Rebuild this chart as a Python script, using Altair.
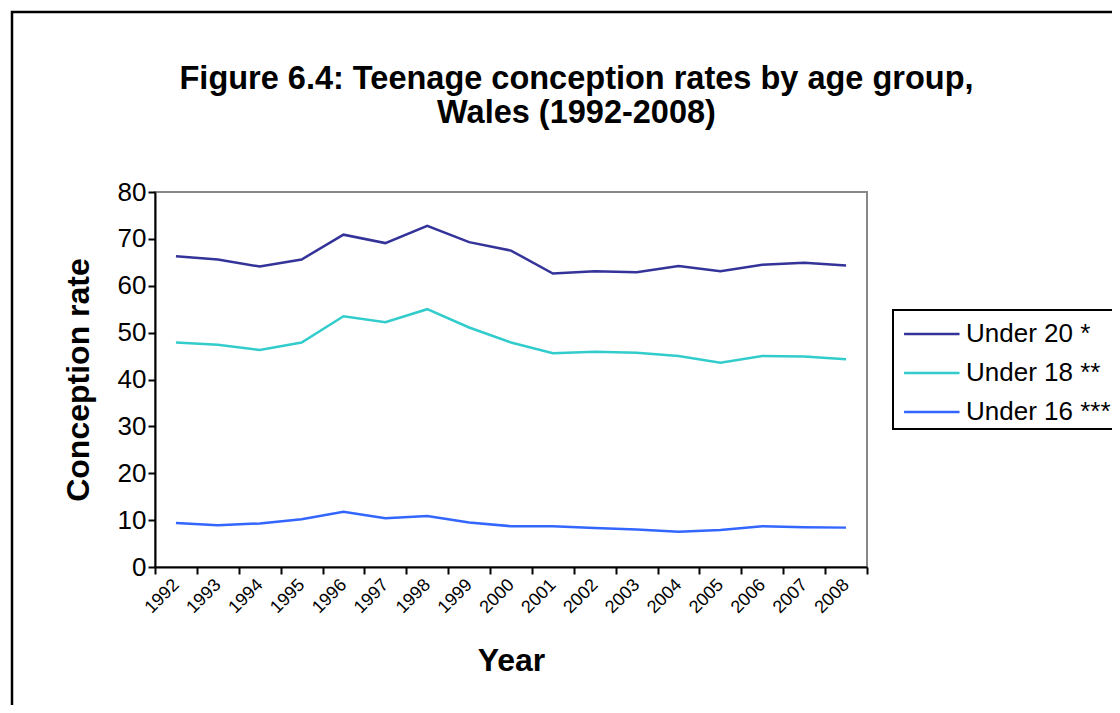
import altair as alt
import pandas as pd

years = [str(y) for y in range(1992, 2009)]
under20 = [66.3, 65.6, 64.1, 65.6, 70.9, 69.1, 72.8, 69.3, 67.5, 62.6, 63.1, 62.9, 64.2, 63.1, 64.5, 64.9, 64.3]
under18 = [47.9, 47.4, 46.3, 47.9, 53.5, 52.2, 55.0, 51.1, 47.9, 45.6, 45.9, 45.7, 45.0, 43.6, 45.0, 44.9, 44.3]
under16 = [9.4, 8.9, 9.3, 10.2, 11.8, 10.4, 10.9, 9.5, 8.7, 8.7, 8.3, 8.0, 7.5, 7.9, 8.7, 8.5, 8.4]
series_names = ["Under 20 *", "Under 18 **", "Under 16 ***"]
series_colors = ["#333399", "#33CCCC", "#3366FF"]
title_lines = ["Figure 6.4: Teenage conception rates by age group,", "Wales (1992-2008)"]

rows = []
for name, vals in zip(series_names, [under20, under18, under16]):
    for y, v in zip(years, vals):
        rows.append({"Year": y, "Rate": v, "Series": name})
df = pd.DataFrame(rows)

FONT = "Liberation Sans"
one = pd.DataFrame({"a": [0]})

border = alt.Chart(one).mark_rect(
    fill=None, stroke="black", strokeWidth=2.5
).encode(
    x=alt.value(-143), x2=alt.value(990),
    y=alt.value(-180), y2=alt.value(560),
)

title1 = alt.Chart(one).mark_text(
    font=FONT, fontSize=32.5, fontWeight="bold", color="black",
    align="center", baseline="middle"
).encode(x=alt.value(421.5), y=alt.value(-113), text=alt.value(title_lines[0]))

title2 = alt.Chart(one).mark_text(
    font=FONT, fontSize=32.5, fontWeight="bold", color="black",
    align="center", baseline="middle"
).encode(x=alt.value(421.5), y=alt.value(-79), text=alt.value(title_lines[1]))

lines = alt.Chart(df).mark_line(strokeWidth=2.5).encode(
    x=alt.X("Year:N", sort=years, bandPosition=0.5,
            scale=alt.Scale(type="band", paddingInner=0, paddingOuter=0),
            axis=alt.Axis(title="Year", tickBand="extent", labelAngle=315,
                          labelAlign="right", labelBaseline="middle",
                          labelFontSize=18, labelPadding=8, tickSize=7,
                          titleFontSize=32, titleFontWeight="bold",
                          titleX=356, titleY=93, titleBaseline="middle",
                          titleAlign="center")),
    y=alt.Y("Rate:Q", scale=alt.Scale(domain=[0, 80], nice=False),
            axis=alt.Axis(title="Conception rate", values=list(range(0, 81, 10)),
                          labelFontSize=26, labelPadding=2, tickSize=7,
                          titleFontSize=32, titleFontWeight="bold",
                          titleAngle=270, titleX=-77, titleY=187.5,
                          titleBaseline="middle", titleAlign="center")),
    color=alt.Color("Series:N", sort=series_names,
                    scale=alt.Scale(domain=series_names, range=series_colors),
                    legend=alt.Legend(title=None, orient="none", legendX=738, legendY=118,
                                      strokeColor="black", padding=4,
                                      symbolType="M-0.7,0H2.3", symbolSize=1369,
                                      symbolStrokeWidth=2.5, labelOffset=29,
                                      labelFontSize=26, rowPadding=6,
                                      labelColor="black")),
)

chart = alt.layer(border, title1, title2, lines).properties(
    width=712, height=375,
    autosize=alt.AutoSizeParams(type="none"),
    padding={"left": 147, "top": 184, "right": 245, "bottom": 138},
).configure(font=FONT).configure_view(
    stroke="#888888", strokeWidth=2
).configure_axis(
    grid=False, domainColor="black", domainWidth=2, tickColor="black", tickWidth=2,
    labelColor="black", titleColor="black", labelFont=FONT, titleFont=FONT
).configure_legend(
    labelFont=FONT, strokeWidth=2
)

chart.save("out.html", embed_options={"renderer": "svg", "actions": False})
